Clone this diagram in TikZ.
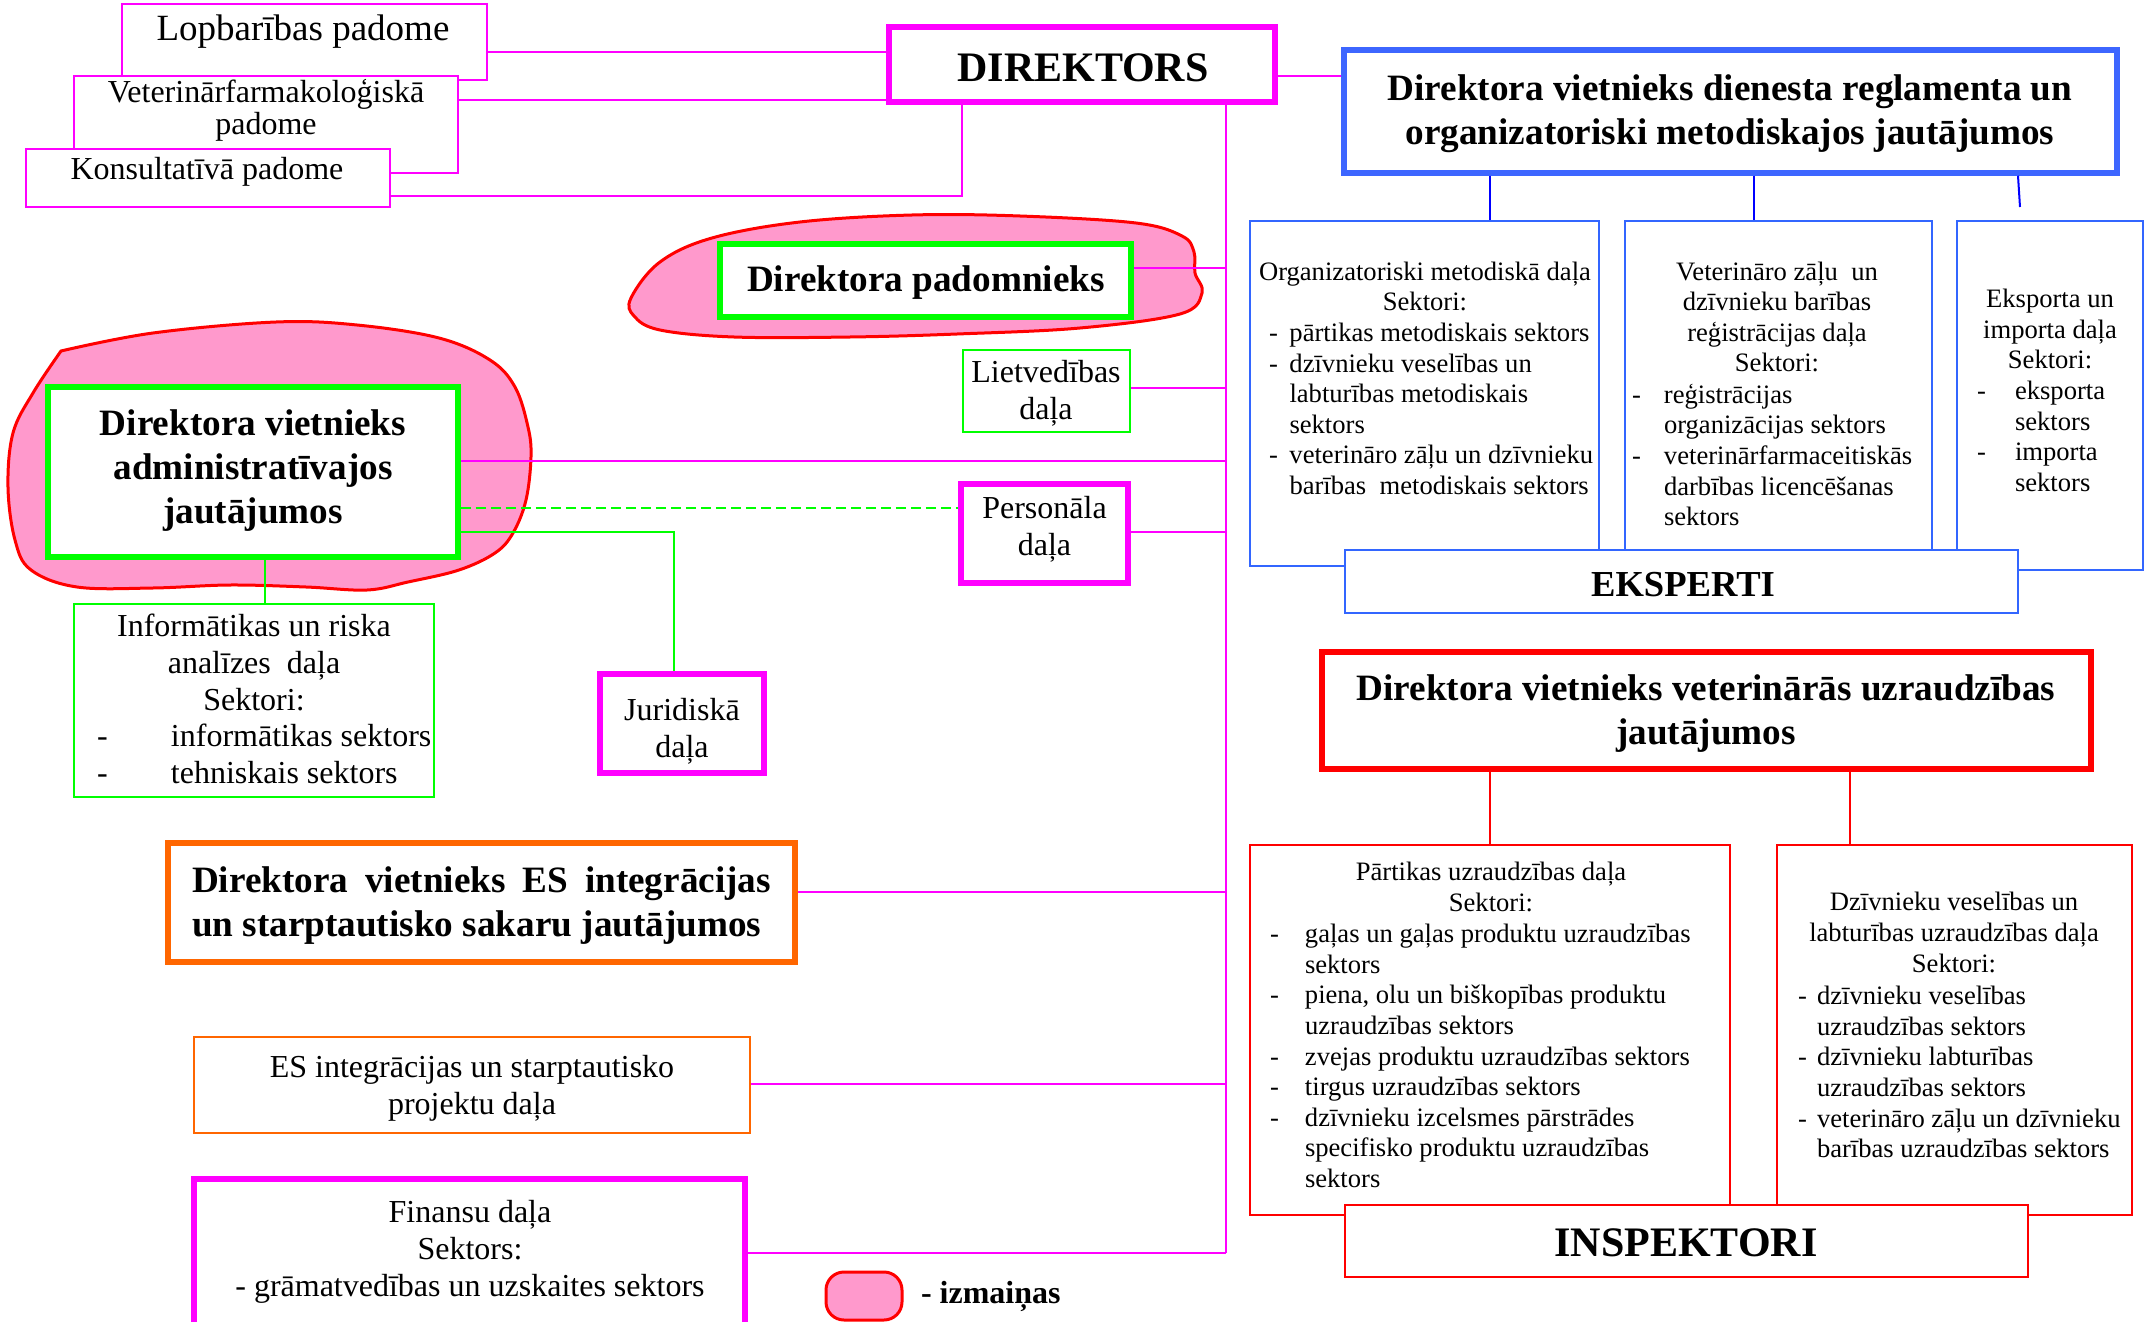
\documentclass[tikz,border=0pt]{standalone}
\usepackage{fontspec}
\setmainfont{Liberation Serif}
\usetikzlibrary{fit}
\definecolor{mag}{HTML}{FF00FF}
\definecolor{grn}{HTML}{00FF00}
\definecolor{bluebox}{HTML}{3D66FF}
\definecolor{bluesub}{HTML}{3366FF}
\definecolor{blueln}{HTML}{0000FF}
\definecolor{redc}{HTML}{FF0000}
\definecolor{orng}{HTML}{FF6600}
\definecolor{pinkc}{HTML}{FF99CC}
\newcommand\fS{\fontsize{13.3}{15.3}\selectfont}
\newcommand\fM{\fontsize{16}{18.5}\selectfont}
\newcommand\fB{\bfseries\fontsize{18.6}{22}\selectfont}
\newcommand\dashln[2]{\makebox[#1][l]{-}#2}
\begin{document}
\begin{tikzpicture}[x=0.5pt,y=-0.5pt,
  bx/.style={draw, fill=white, inner sep=0pt, line width=1pt},
  tbx/.style={bx, line width=2.75pt},
  tx/.style={inner sep=0pt, outer sep=0pt},
  ln/.style={line width=1pt},
  blob/.style={draw=redc, fill=pinkc, line width=1.5pt}]
\useasboundingbox (0,0) rectangle (2154,1322);
\fill[white] (0,0) rectangle (2154,1322);

% change blobs
\draw[blob] plot[smooth, tension=0.6] coordinates {(61,351) (153,333) (276,322) (357,325) (439,338) (490,360) (515,387) (528,427) (531,457) (526,500) (513,533) (495,553) (459,570) (408,582) (367,590) (306,587) (230,585) (153,588) (77,587) (31,570) (15,540) (8,487) (13,433) (33,393) (61,351)} -- cycle;
\draw[blob] plot[smooth cycle, tension=0.6] coordinates {(631,298) (660,262) (712,238) (800,222) (912,215) (1020,216) (1136,223) (1182,236) (1194,252) (1195,273) (1202,293) (1180,314) (1080,328) (957,334) (850,337) (734,337) (660,330) (634,316)};

% top-left councils
\node[bx, draw=mag, fit={(122,4) (487,80)}] (lop) {};
\node[bx, draw=mag, fit={(74,76) (458,173)}] (vfp) {};
\node[bx, draw=mag, fit={(26,149) (390,207)}] (kons) {};
\node[tx, font=\fontsize{18.5}{20}\selectfont] (lopT) at (303,31.5) {Lopbarības padome};
\node[tx, align=center, font=\fontsize{16}{16}\selectfont] (vfpT) at (266,110) {Veterinārfarmakoloģiskā\\padome};
\node[tx, font=\fontsize{16}{16}\selectfont] (konsT) at (207,172) {Konsultatīvā padome};

% director
\node[tbx, draw=mag, fit={(889,27) (1275,102)}] (dir) {};
\node[tx, font=\bfseries\fontsize{21}{24}\selectfont] (dirT) at (1083,67.5) {DIREKTORS};

% blue deputy
\node[tbx, draw=bluebox, fit={(1344,50) (2117,173)}] (dreg) {};
\node[tx, align=center, font=\fB] (dregT) at (1730,114) {Direktora vietnieks dienesta reglamenta un\\organizatoriski metodiskajos jautājumos};
\node[bx, draw=bluesub, fit={(1250,221) (1599,566)}] (org) {};
\node[bx, draw=bluesub, fit={(1625,221) (1932,550)}] (vzb) {};
\node[bx, draw=bluesub, fit={(1957,221) (2143,570)}] (exp) {};
\node[bx, draw=bluesub, fit={(1345,550) (2018,613)}] (eksp) {};
\node[tx, font=\bfseries\fontsize{18.3}{20}\selectfont] (ekspT) at (1683,584.5) {EKSPERTI};
\node[tx, align=center, font=\fS] (orgH) at (1425,286.5) {Organizatoriski metodiskā daļa\\Sektori:};
\node[tx, align=left, font=\fS, anchor=west] (orgL) at (1269,409) {\dashln{10.25pt}{pārtikas metodiskais sektors}\\
\dashln{10.25pt}{dzīvnieku veselības un}\\
\hspace*{10.25pt}labturības metodiskais\\
\hspace*{10.25pt}sektors\\
\dashln{10.25pt}{veterināro zāļu un dzīvnieku}\\
\hspace*{10.25pt}barības\ \ metodiskais sektors};
\node[tx, align=center, font=\fS] (vzbH) at (1777,317) {Veterināro zāļu\ \ un\\dzīvnieku barības\\reģistrācijas daļa\\Sektori:};
\node[tx, align=left, font=\fS, anchor=west] (vzbL) at (1632,455) {\dashln{16pt}{reģistrācijas}\\
\hspace*{16pt}organizācijas sektors\\
\dashln{16pt}{veterinārfarmaceitiskās}\\
\hspace*{16pt}darbības licencēšanas\\
\hspace*{16pt}sektors};
\node[tx, align=center, font=\fS] (expH) at (2050,329) {Eksporta un\\importa daļa\\Sektori:};
\node[tx, align=left, font=\fS, anchor=west] (expL) at (1977,436.5) {\dashln{19pt}{eksporta}\\
\hspace*{19pt}sektors\\
\dashln{19pt}{importa}\\
\hspace*{19pt}sektors};
\coordinate (bfree) at (2020,207);
\draw[blueln, ln] (dreg.south -| 1490,0) -- (org.north -| 1490,0);
\draw[blueln, ln] (dreg.south -| 1754,0) -- (vzb.north -| 1754,0);
\draw[blueln, ln] (dreg.south -| 2018,0) -- (bfree);

% red deputy
\node[tbx, draw=redc, fit={(1322,652) (2091,769)}] (vsup) {};
\node[tx, align=center, font=\fB] (vsupT) at (1706,714) {Direktora vietnieks veterinārās uzraudzības\\jautājumos};
\node[bx, draw=redc, fit={(1250,845) (1730,1215)}] (part) {};
\node[bx, draw=redc, fit={(1777,845) (2132,1215)}] (dzv) {};
\node[bx, draw=redc, fit={(1345,1205) (2028,1277)}] (insp) {};
\node[tx, font=\bfseries\fontsize{21}{24}\selectfont] (inspT) at (1686,1242.5) {INSPEKTORI};
\draw[redc, ln] (vsup.south -| 1490,0) -- (part.north -| 1490,0);
\draw[redc, ln] (vsup.south -| 1850,0) -- (dzv.north -| 1850,0);
\node[tx, align=center, font=\fS] (partH) at (1491,887) {Pārtikas uzraudzības daļa\\Sektori:};
\node[tx, align=left, font=\fS, anchor=west] (partL) at (1270,1056) {\dashln{17.5pt}{gaļas un gaļas produktu uzraudzības}\\
\hspace*{17.5pt}sektors\\
\dashln{17.5pt}{piena, olu un biškopības produktu}\\
\hspace*{17.5pt}uzraudzības sektors\\
\dashln{17.5pt}{zvejas produktu uzraudzības sektors}\\
\dashln{17.5pt}{tirgus uzraudzības sektors}\\
\dashln{17.5pt}{dzīvnieku izcelsmes pārstrādes}\\
\hspace*{17.5pt}specifisko produktu uzraudzības\\
\hspace*{17.5pt}sektors};
\node[tx, align=center, font=\fS] (dzvH) at (1954,932.5) {Dzīvnieku veselības un\\labturības uzraudzības daļa\\Sektori:};
\node[tx, align=left, font=\fS, anchor=west] (dzvL) at (1798,1072) {\dashln{9.5pt}{dzīvnieku veselības}\\
\hspace*{9.5pt}uzraudzības sektors\\
\dashln{9.5pt}{dzīvnieku labturības}\\
\hspace*{9.5pt}uzraudzības sektors\\
\dashln{9.5pt}{veterināro zāļu un dzīvnieku}\\
\hspace*{9.5pt}barības uzraudzības sektors};

% administrative deputy
\node[tbx, draw=grn, fit={(48,387) (458,557)}] (adm) {};
\node[tx, align=center, font=\fB] (admT) at (253,471) {Direktora vietnieks\\administratīvajos\\jautājumos};
\node[bx, draw=grn, fit={(74,604) (434,797)}] (info) {};
\node[tx, align=center, font=\fM] (infoH) at (254,662) {Informātikas un riska\\analīzes\ \ daļa\\Sektori:};
\node[tx, align=left, font=\fM, anchor=west] (infoL) at (97,754) {\dashln{37pt}{informātikas sektors}\\
\dashln{37pt}{tehniskais sektors}};

% adviser and departments
\node[tbx, draw=grn, fit={(720,244) (1131,317)}] (pad) {};
\node[tx, font=\fB] (padT) at (926,283) {Direktora padomnieks};
\node[bx, draw=grn, fit={(963,350) (1130,432)}] (liet) {};
\node[tx, align=center, font=\fM] (lietT) at (1046,393.5) {Lietvedības\\daļa};
\node[tbx, draw=mag, fit={(961,484) (1128,583)}] (pers) {};
\node[tx, align=center, font=\fM] (persT) at (1044.5,529.5) {Personāla\\daļa};
\node[tbx, draw=mag, fit={(600,674) (764,773)}] (jur) {};
\node[tx, align=center, font=\fM] (jurT) at (682,731) {Juridiskā\\daļa};

% EU deputy
\node[tbx, draw=orng, fit={(168,843) (795,962)}] (es) {};
\node[tx, align=left, font=\fB, anchor=west] (esT) at (192,906) {\makebox[289.5pt][s]{Direktora vietnieks ES integrācijas}\\un starptautisko sakaru jautājumos};
\node[bx, draw=orng, fit={(194,1037) (750,1133)}] (esd) {};
\node[tx, align=center, font=\fM] (esdT) at (472,1088) {ES integrācijas un starptautisko\\projektu daļa};
\node[tbx, draw=mag, fit={(194,1179) (745,1350)}] (fin) {};
\node[tx, align=center, font=\fM] (finT) at (470,1252) {Finansu daļa\\Sektors:\\- grāmatvedības un uzskaites sektors};

% legend
\node[draw=redc, fill=pinkc, line width=1.5pt, rounded corners=9pt, inner sep=0pt, fit={(826,1272) (902,1320)}] (leg) {};
\node[tx, anchor=west, font=\bfseries\fontsize{16}{18}\selectfont] (legT) at (921,1296) {- izmaiņas};

% connectors from director
\coordinate (tbot) at (1226,1253);
\draw[mag, ln] (dir.south -| tbot) -- (tbot);
\draw[mag, ln] (lop.east |- 0,52) -- (dir.west |- 0,52);
\draw[mag, ln] (vfp.east |- 0,100) -- (dir.west |- 0,100);
\draw[mag, ln] (kons.east |- 0,196) -| (dir.south -| 962,0);
\draw[mag, ln] (dir.east |- 0,76) -- (dreg.west |- 0,76);
\draw[mag, ln] (pad.east |- 0,268) -- (tbot |- 0,268);
\draw[mag, ln] (liet.east |- 0,388) -- (tbot |- 0,388);
\draw[mag, ln] (adm.east |- 0,461) -- (tbot |- 0,461);
\draw[mag, ln] (pers.east |- 0,532) -- (tbot |- 0,532);
\draw[mag, ln] (es.east |- 0,892) -- (tbot |- 0,892);
\draw[mag, ln] (esd.east |- 0,1084) -- (tbot |- 0,1084);
\draw[mag, ln] (fin.east |- 0,1253) -- (tbot);

% connectors from administrative deputy
\draw[grn, ln, dash pattern=on 5pt off 2.5pt] (adm.east |- 0,508) -- (pers.west |- 0,508);
\draw[grn, ln] (adm.east |- 0,532) -| (jur.north -| 674,0);
\draw[grn, ln] (adm.south -| 265,0) -- (info.north -| 265,0);
\end{tikzpicture}
\end{document}
